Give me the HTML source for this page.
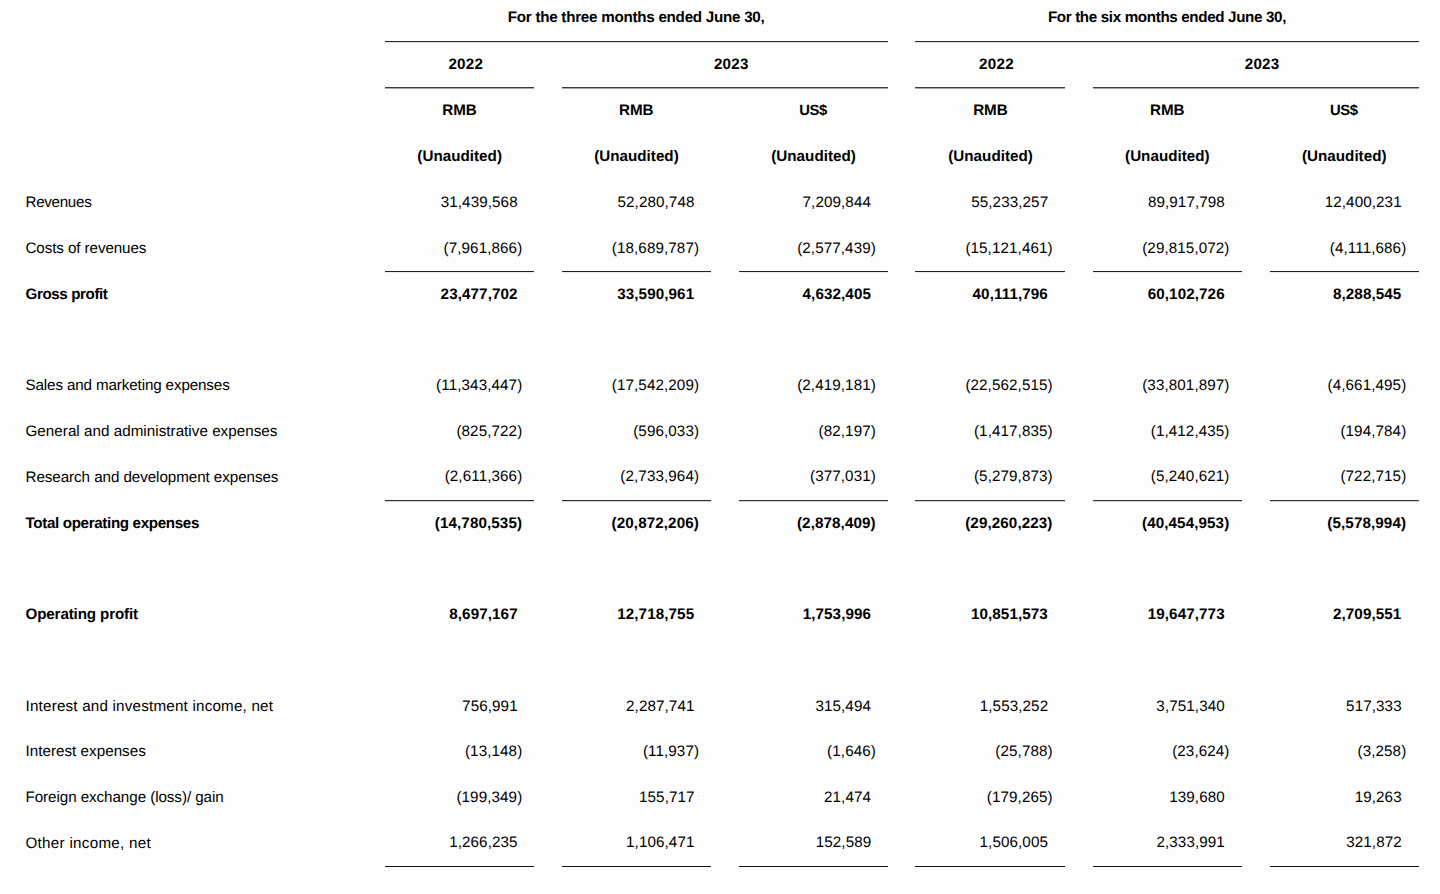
<!DOCTYPE html>
<html><head><meta charset="utf-8"><title>Statement</title>
<style>
html,body{margin:0;padding:0;background:#fdfdfd;}
body{width:1440px;height:894px;position:relative;overflow:hidden;font-family:"Liberation Sans",sans-serif;font-size:15.2px;color:#000;text-rendering:geometricPrecision;}
.t{position:absolute;white-space:nowrap;line-height:20px;height:20px;}
.b{font-weight:bold;}
.ln{position:absolute;height:1px;}
.l41{top:41px;background:#2a2a2a;box-shadow:0 1px 0 #dcdcdc;}
.l87{top:87px;background:#3c3c3c;box-shadow:0 1px 0 #a8a8a8;}
.l271{top:271px;background:#222222;box-shadow:0 1px 0 #ececec;}
.l500{top:500px;background:#303030;box-shadow:0 1px 0 #d2d2d2;}
.l866{top:866px;background:#141414;}
</style></head><body>
<div class="ln l41" style="left:385px;width:503px"></div>
<div class="ln l41" style="left:915px;width:504px"></div>
<div class="ln l87" style="left:385px;width:149px"></div>
<div class="ln l87" style="left:562px;width:326px"></div>
<div class="ln l87" style="left:915px;width:150px"></div>
<div class="ln l87" style="left:1093px;width:326px"></div>
<div class="ln l271" style="left:385px;width:149px"></div>
<div class="ln l271" style="left:562px;width:149px"></div>
<div class="ln l271" style="left:739px;width:149px"></div>
<div class="ln l271" style="left:915px;width:150px"></div>
<div class="ln l271" style="left:1093px;width:149px"></div>
<div class="ln l271" style="left:1270px;width:149px"></div>
<div class="ln l500" style="left:385px;width:149px"></div>
<div class="ln l500" style="left:562px;width:149px"></div>
<div class="ln l500" style="left:739px;width:149px"></div>
<div class="ln l500" style="left:915px;width:150px"></div>
<div class="ln l500" style="left:1093px;width:149px"></div>
<div class="ln l500" style="left:1270px;width:149px"></div>
<div class="ln l866" style="left:385px;width:149px"></div>
<div class="ln l866" style="left:562px;width:149px"></div>
<div class="ln l866" style="left:739px;width:149px"></div>
<div class="ln l866" style="left:915px;width:150px"></div>
<div class="ln l866" style="left:1093px;width:149px"></div>
<div class="ln l866" style="left:1270px;width:149px"></div>
<div class="row">
  <div class="t b" style="left:507.75px;top:8px;letter-spacing:-0.259px;">For the three months ended June 30,</div>
  <div class="t b" style="left:1047.90px;top:8px;letter-spacing:-0.353px;">For the six months ended June 30,</div>
</div>
<div class="row">
  <div class="t b" style="left:448.40px;top:55px;letter-spacing:0.280px;">2022</div>
  <div class="t b" style="left:713.95px;top:55px;letter-spacing:0.213px;">2023</div>
  <div class="t b" style="left:979.10px;top:55px;letter-spacing:0.280px;">2022</div>
  <div class="t b" style="left:1244.70px;top:55px;letter-spacing:0.246px;">2023</div>
</div>
<div class="row">
  <div class="t b" style="left:442.30px;top:101px;letter-spacing:-0.069px;">RMB</div>
  <div class="t b" style="left:619.10px;top:101px;letter-spacing:-0.069px;">RMB</div>
  <div class="t b" style="left:799.20px;top:101px;letter-spacing:-0.330px;font-size:14.8px;">US$</div>
  <div class="t b" style="left:973.20px;top:101px;letter-spacing:-0.069px;">RMB</div>
  <div class="t b" style="left:1150.00px;top:101px;letter-spacing:-0.069px;">RMB</div>
  <div class="t b" style="left:1329.90px;top:101px;letter-spacing:-0.330px;font-size:14.8px;">US$</div>
</div>
<div class="row">
  <div class="t b" style="left:417.35px;top:147px;letter-spacing:0.023px;">(Unaudited)</div>
  <div class="t b" style="left:594.15px;top:147px;letter-spacing:0.023px;">(Unaudited)</div>
  <div class="t b" style="left:771.25px;top:147px;letter-spacing:0.023px;">(Unaudited)</div>
  <div class="t b" style="left:948.25px;top:147px;letter-spacing:0.023px;">(Unaudited)</div>
  <div class="t b" style="left:1125.05px;top:147px;letter-spacing:0.023px;">(Unaudited)</div>
  <div class="t b" style="left:1301.95px;top:147px;letter-spacing:0.023px;">(Unaudited)</div>
</div>
<div class="row">
  <div class="t" style="left:25.50px;top:193px;letter-spacing:-0.306px;">Revenues</div>
  <div class="t" style="left:440.70px;top:193px;letter-spacing:0.098px;">31,439,568</div>
  <div class="t" style="left:617.50px;top:193px;letter-spacing:0.098px;">52,280,748</div>
  <div class="t" style="left:802.55px;top:193px;letter-spacing:0.098px;">7,209,844</div>
  <div class="t" style="left:971.20px;top:193px;letter-spacing:0.098px;">55,233,257</div>
  <div class="t" style="left:1147.90px;top:193px;letter-spacing:0.098px;">89,917,798</div>
  <div class="t" style="left:1324.70px;top:193px;letter-spacing:0.098px;">12,400,231</div>
</div>
<div class="row">
  <div class="t" style="left:25.50px;top:239px;letter-spacing:-0.094px;">Costs of revenues</div>
  <div class="t" style="left:443.54px;top:239px;letter-spacing:0.098px;">(7,961,866)</div>
  <div class="t" style="left:611.79px;top:239px;letter-spacing:0.098px;">(18,689,787)</div>
  <div class="t" style="left:797.14px;top:239px;letter-spacing:0.098px;">(2,577,439)</div>
  <div class="t" style="left:965.39px;top:239px;letter-spacing:0.098px;">(15,121,461)</div>
  <div class="t" style="left:1142.19px;top:239px;letter-spacing:0.098px;">(29,815,072)</div>
  <div class="t" style="left:1329.80px;top:239px;letter-spacing:0.098px;">(4,111,686)</div>
</div>
<div class="row">
  <div class="t b" style="left:25.50px;top:285px;letter-spacing:-0.411px;">Gross profit</div>
  <div class="t b" style="left:440.60px;top:285px;letter-spacing:0.098px;">23,477,702</div>
  <div class="t b" style="left:617.20px;top:285px;letter-spacing:0.098px;">33,590,961</div>
  <div class="t b" style="left:802.55px;top:285px;letter-spacing:0.098px;">4,632,405</div>
  <div class="t b" style="left:972.58px;top:285px;letter-spacing:0.098px;">40,111,796</div>
  <div class="t b" style="left:1147.70px;top:285px;letter-spacing:0.098px;">60,102,726</div>
  <div class="t b" style="left:1332.95px;top:285px;letter-spacing:0.098px;">8,288,545</div>
</div>
<div class="row">
  <div class="t" style="left:25.50px;top:376px;letter-spacing:-0.128px;">Sales and marketing expenses</div>
  <div class="t" style="left:436.12px;top:376px;letter-spacing:0.098px;">(11,343,447)</div>
  <div class="t" style="left:611.79px;top:376px;letter-spacing:0.098px;">(17,542,209)</div>
  <div class="t" style="left:797.14px;top:376px;letter-spacing:0.098px;">(2,419,181)</div>
  <div class="t" style="left:965.39px;top:376px;letter-spacing:0.098px;">(22,562,515)</div>
  <div class="t" style="left:1142.19px;top:376px;letter-spacing:0.098px;">(33,801,897)</div>
  <div class="t" style="left:1327.54px;top:376px;letter-spacing:0.098px;">(4,661,495)</div>
</div>
<div class="row">
  <div class="t" style="left:25.50px;top:422px;letter-spacing:0.034px;">General and administrative expenses</div>
  <div class="t" style="left:456.41px;top:422px;letter-spacing:0.098px;">(825,722)</div>
  <div class="t" style="left:633.21px;top:422px;letter-spacing:0.098px;">(596,033)</div>
  <div class="t" style="left:818.56px;top:422px;letter-spacing:0.098px;">(82,197)</div>
  <div class="t" style="left:973.94px;top:422px;letter-spacing:0.098px;">(1,417,835)</div>
  <div class="t" style="left:1150.74px;top:422px;letter-spacing:0.098px;">(1,412,435)</div>
  <div class="t" style="left:1340.41px;top:422px;letter-spacing:0.098px;">(194,784)</div>
</div>
<div class="row">
  <div class="t" style="left:25.50px;top:468px;letter-spacing:-0.065px;">Research and development expenses</div>
  <div class="t" style="left:444.67px;top:467px;letter-spacing:0.098px;">(2,611,366)</div>
  <div class="t" style="left:620.34px;top:467px;letter-spacing:0.098px;">(2,733,964)</div>
  <div class="t" style="left:810.01px;top:467px;letter-spacing:0.098px;">(377,031)</div>
  <div class="t" style="left:973.94px;top:467px;letter-spacing:0.098px;">(5,279,873)</div>
  <div class="t" style="left:1150.74px;top:467px;letter-spacing:0.098px;">(5,240,621)</div>
  <div class="t" style="left:1340.41px;top:467px;letter-spacing:0.098px;">(722,715)</div>
</div>
<div class="row">
  <div class="t b" style="left:25.50px;top:514px;letter-spacing:-0.355px;">Total operating expenses</div>
  <div class="t b" style="left:434.79px;top:514px;letter-spacing:0.098px;">(14,780,535)</div>
  <div class="t b" style="left:611.59px;top:514px;letter-spacing:0.098px;">(20,872,206)</div>
  <div class="t b" style="left:796.94px;top:514px;letter-spacing:0.098px;">(2,878,409)</div>
  <div class="t b" style="left:965.19px;top:514px;letter-spacing:0.098px;">(29,260,223)</div>
  <div class="t b" style="left:1141.99px;top:514px;letter-spacing:0.098px;">(40,454,953)</div>
  <div class="t b" style="left:1327.34px;top:514px;letter-spacing:0.098px;">(5,578,994)</div>
</div>
<div class="row">
  <div class="t b" style="left:25.50px;top:605px;letter-spacing:-0.138px;">Operating profit</div>
  <div class="t b" style="left:449.25px;top:605px;letter-spacing:0.098px;">8,697,167</div>
  <div class="t b" style="left:617.20px;top:605px;letter-spacing:0.098px;">12,718,755</div>
  <div class="t b" style="left:802.65px;top:605px;letter-spacing:0.098px;">1,753,996</div>
  <div class="t b" style="left:970.90px;top:605px;letter-spacing:0.098px;">10,851,573</div>
  <div class="t b" style="left:1147.70px;top:605px;letter-spacing:0.098px;">19,647,773</div>
  <div class="t b" style="left:1332.95px;top:605px;letter-spacing:0.098px;">2,709,551</div>
</div>
<div class="row">
  <div class="t" style="left:25.50px;top:697px;letter-spacing:0.201px;">Interest and investment income, net</div>
  <div class="t" style="left:462.12px;top:697px;letter-spacing:0.098px;">756,991</div>
  <div class="t" style="left:626.05px;top:697px;letter-spacing:0.098px;">2,287,741</div>
  <div class="t" style="left:815.42px;top:697px;letter-spacing:0.098px;">315,494</div>
  <div class="t" style="left:979.75px;top:697px;letter-spacing:0.098px;">1,553,252</div>
  <div class="t" style="left:1156.35px;top:697px;letter-spacing:0.098px;">3,751,340</div>
  <div class="t" style="left:1346.12px;top:697px;letter-spacing:0.098px;">517,333</div>
</div>
<div class="row">
  <div class="t" style="left:25.50px;top:742px;letter-spacing:0.026px;">Interest expenses</div>
  <div class="t" style="left:464.96px;top:742px;letter-spacing:0.098px;">(13,148)</div>
  <div class="t" style="left:642.89px;top:742px;letter-spacing:0.098px;">(11,937)</div>
  <div class="t" style="left:827.11px;top:742px;letter-spacing:0.098px;">(1,646)</div>
  <div class="t" style="left:995.36px;top:742px;letter-spacing:0.098px;">(25,788)</div>
  <div class="t" style="left:1172.16px;top:742px;letter-spacing:0.098px;">(23,624)</div>
  <div class="t" style="left:1357.51px;top:742px;letter-spacing:0.098px;">(3,258)</div>
</div>
<div class="row">
  <div class="t" style="left:25.50px;top:788px;letter-spacing:-0.067px;">Foreign exchange (loss)/ gain</div>
  <div class="t" style="left:456.41px;top:788px;letter-spacing:0.098px;">(199,349)</div>
  <div class="t" style="left:639.02px;top:788px;letter-spacing:0.098px;">155,717</div>
  <div class="t" style="left:823.97px;top:788px;letter-spacing:0.098px;">21,474</div>
  <div class="t" style="left:986.81px;top:788px;letter-spacing:0.098px;">(179,265)</div>
  <div class="t" style="left:1169.22px;top:788px;letter-spacing:0.098px;">139,680</div>
  <div class="t" style="left:1354.67px;top:788px;letter-spacing:0.098px;">19,263</div>
</div>
<div class="row">
  <div class="t" style="left:25.50px;top:834px;letter-spacing:0.282px;">Other income, net</div>
  <div class="t" style="left:449.15px;top:833px;letter-spacing:0.098px;">1,266,235</div>
  <div class="t" style="left:626.05px;top:833px;letter-spacing:0.098px;">1,106,471</div>
  <div class="t" style="left:815.72px;top:833px;letter-spacing:0.098px;">152,589</div>
  <div class="t" style="left:979.55px;top:833px;letter-spacing:0.098px;">1,506,005</div>
  <div class="t" style="left:1156.45px;top:833px;letter-spacing:0.098px;">2,333,991</div>
  <div class="t" style="left:1346.22px;top:833px;letter-spacing:0.098px;">321,872</div>
</div>
</body></html>
